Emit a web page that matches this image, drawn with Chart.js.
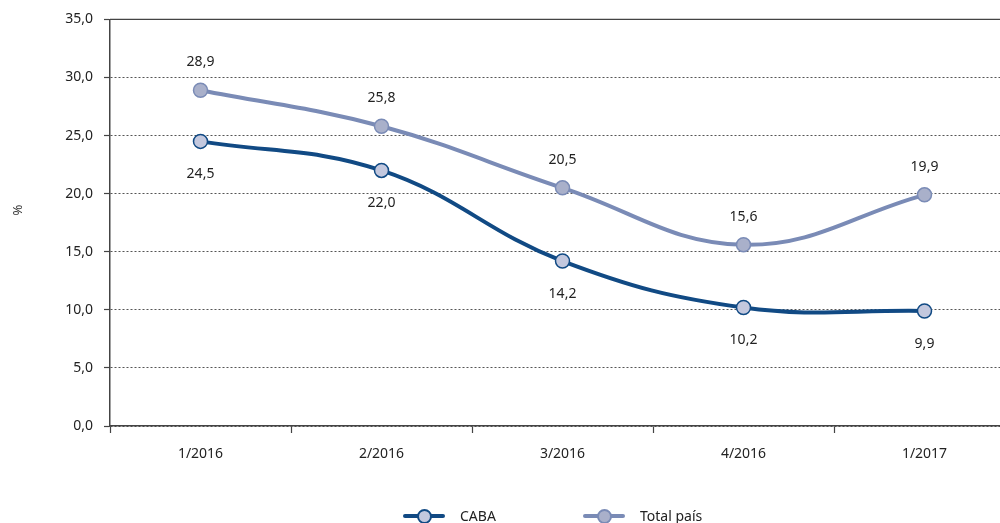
<!DOCTYPE html>
<html>
<head>
<meta charset="utf-8">
<script src="https://cdn.jsdelivr.net/npm/chart.js@4/dist/chart.umd.min.js"></script>
<style>
    html, body { margin: 0; padding: 0; background: #fff; overflow: hidden; width: 1000px; height: 523px; }
    #wrap { position: absolute; left: 0; top: 0; width: 1030px; height: 523px; }
    .leg { position: absolute; top: 506px; height: 20px; font-family: 'Noto Sans', sans-serif; font-size: 14px; color: #222; }
    .leg .ln { position: absolute; left: 0; top: 8px; width: 42px; height: 4px; border-radius: 2px; }
    .leg .pt { position: absolute; left: 14px; top: 3px; width: 11px; height: 11px; border-radius: 50%; border: 2px solid; }
    .leg .tx { position: absolute; left: 57px; top: 0; white-space: nowrap; }
</style>
</head>
<body>
<div id="wrap"><canvas id="chart" width="1030" height="523"></canvas></div>
<div class="leg" style="left:403px">
    <div class="ln" style="background:#114a84"></div>
    <div class="pt" style="background:#c3c8de;border-color:#114a84"></div>
    <div class="tx">CABA</div>
</div>
<div class="leg" style="left:583px">
    <div class="ln" style="background:#7a8bb6"></div>
    <div class="pt" style="background:#a9b0ca;border-color:#7a8bb6"></div>
    <div class="tx">Total país</div>
</div>
<script>
    // data
    const categories = ['1/2016', '2/2016', '3/2016', '4/2016', '1/2017'];
    const caba = [24.5, 22.0, 14.2, 10.2, 9.9];
    const totalPais = [28.9, 25.8, 20.5, 15.6, 19.9];
    const yTicks = [0, 5, 10, 15, 20, 25, 30, 35];
    const yTitle = '%';

    const fmt = v => v.toFixed(1).replace('.', ',');
    const font = { family: "'Noto Sans', sans-serif", size: 14 };

    // value labels: Total país above, CABA below
    const valueLabels = {
        id: 'valueLabels',
        afterDatasetsDraw(chart) {
            const ctx = chart.ctx;
            ctx.save();
            ctx.font = "14px 'Noto Sans', sans-serif";
            ctx.fillStyle = '#222';
            ctx.textAlign = 'center';
            ctx.textBaseline = 'middle';
            chart.data.datasets.forEach((ds, i) => {
                const meta = chart.getDatasetMeta(i);
                const off = ds.label === 'CABA' ? 33 : -28;
                meta.data.forEach((pt, j) => {
                    ctx.fillText(fmt(ds.data[j]), pt.x, pt.y + off);
                });
            });
            ctx.restore();
        }
    };

    // solid line on top of plot + y title
    const frame = {
        id: 'frame',
        beforeDatasetsDraw(chart) {
            const { ctx, chartArea } = chart;
            ctx.save();
            ctx.strokeStyle = '#444';
            ctx.lineWidth = 1.2;
            ctx.beginPath();
            ctx.moveTo(chartArea.left, chartArea.top);
            ctx.lineTo(chartArea.right, chartArea.top);
            ctx.stroke();
            ctx.translate(18, 210);
            ctx.rotate(-Math.PI / 2);
            ctx.font = "13px 'Noto Sans', sans-serif";
            ctx.fillStyle = '#333';
            ctx.textAlign = 'center';
            ctx.textBaseline = 'middle';
            ctx.fillText(yTitle, 0, 0);
            ctx.restore();
        }
    };

    new Chart(document.getElementById('chart'), {
        type: 'line',
        data: {
            labels: categories,
            datasets: [
                {
                    label: 'CABA',
                    data: caba,
                    borderColor: '#114a84',
                    borderWidth: 4,
                    pointBackgroundColor: '#c3c8de',
                    pointBorderColor: '#114a84',
                    pointBorderWidth: 1.5,
                    pointRadius: 7,
                    tension: 0.4
                },
                {
                    label: 'Total país',
                    data: totalPais,
                    borderColor: '#7a8bb6',
                    borderWidth: 4,
                    pointBackgroundColor: '#a9b0ca',
                    pointBorderColor: '#7a8bb6',
                    pointBorderWidth: 1.5,
                    pointRadius: 7,
                    tension: 0.4
                }
            ]
        },
        options: {
            responsive: false,
            animation: false,
            layout: { padding: { top: 19, right: 15, left: 0, bottom: 0 } },
            plugins: { legend: { display: false }, tooltip: { enabled: false } },
            scales: {
                x: {
                    offset: true,
                    afterFit: s => { s.height = 97; },
                    grid: { offset: true, drawOnChartArea: false, tickLength: 7, tickColor: '#444', tickWidth: 1.2 },
                    border: { color: '#444', width: 1.5 },
                    ticks: { font: font, color: '#222', padding: 13 }
                },
                y: {
                    min: 0,
                    max: 35,
                    afterFit: s => { s.width = 110; },
                    afterBuildTicks: s => { s.ticks = yTicks.map(v => ({ value: v })); },
                    grid: { color: '#555', lineWidth: 1, tickLength: 6, tickColor: '#444', tickWidth: 1.2 },
                    border: { color: '#444', width: 1.5, dash: [2, 2] },
                    ticks: { font: font, color: '#222', padding: 11, callback: v => fmt(v) }
                }
            }
        },
        plugins: [valueLabels, frame]
    });
</script>
</body>
</html>
